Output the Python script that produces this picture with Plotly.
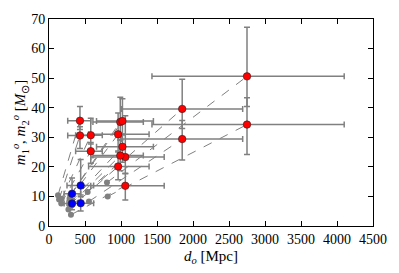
import plotly.graph_objects as go

# ---- data ----
events = ["GW150914", "GW151012", "GW151226", "GW170104", "GW170608",
          "GW170729", "GW170809", "GW170814", "GW170818", "GW170823"]
d_obs = [430, 1060, 440, 960, 320, 2750, 990, 580, 1020, 1850]
d_plus = [150, 540, 180, 430, 120, 1350, 320, 160, 430, 840]
d_minus = [170, 480, 190, 410, 110, 1320, 380, 210, 360, 840]
m1_obs = [35.6, 23.3, 13.7, 31.0, 10.9, 50.6, 35.2, 30.7, 35.5, 39.6]
m1_plus = [4.8, 14.0, 8.8, 7.2, 5.3, 16.6, 8.3, 5.7, 7.5, 10.0]
m1_minus = [3.0, 5.5, 3.2, 5.6, 1.7, 10.2, 6.0, 3.0, 4.7, 6.6]
m2_obs = [30.6, 13.6, 7.7, 20.1, 7.6, 34.3, 23.8, 25.3, 26.8, 29.4]
m2_plus = [3.0, 4.1, 2.2, 4.9, 1.3, 9.1, 5.2, 2.9, 4.3, 6.3]
m2_minus = [4.4, 4.8, 2.6, 4.5, 2.1, 10.1, 5.1, 4.1, 5.2, 7.1]
low_mass = [False, False, True, False, True, False, False, False, False, False]

# gray counterparts of the heavy events
gray_events = ["GW150914", "GW151012", "GW170104", "GW170729",
               "GW170809", "GW170814", "GW170818", "GW170823"]
gray_d1 = [125, 315, 285, 805, 295, 175, 305, 537]
gray_m1 = [10.4, 6.9, 9.2, 14.7, 10.4, 9.2, 10.6, 11.5]
gray_d2 = [140, 305, 270, 815, 290, 170, 300, 555]
gray_m2 = [9.0, 3.8, 5.6, 10.0, 7.1, 7.6, 8.0, 8.3]

x_ticks = [0, 500, 1000, 1500, 2000, 2500, 3000, 3500, 4000, 4500]
y_ticks = [0, 10, 20, 30, 40, 50, 60, 70]

GRAY = "#808080"
FONT = "Liberation Serif"

fig = go.Figure()

# dashed connectors
lx, ly = [], []
for i, ev in enumerate(gray_events):
    k = events.index(ev)
    lx += [gray_d1[i], d_obs[k], None, gray_d2[i], d_obs[k], None]
    ly += [gray_m1[i], m1_obs[k], None, gray_m2[i], m2_obs[k], None]
fig.add_trace(go.Scatter(x=lx, y=ly, mode="lines",
                         line=dict(color=GRAY, width=1, dash="dash"),
                         hoverinfo="skip", showlegend=False))

# gray dots
fig.add_trace(go.Scatter(x=gray_d1 + gray_d2, y=gray_m1 + gray_m2, mode="markers",
                         marker=dict(color=GRAY, size=6, line=dict(width=0)),
                         showlegend=False))

# error bars (m1 and m2)
for m, mp, mm in [(m1_obs, m1_plus, m1_minus), (m2_obs, m2_plus, m2_minus)]:
    fig.add_trace(go.Scatter(
        x=d_obs, y=m, mode="markers",
        marker=dict(size=1, opacity=0),
        error_x=dict(type="data", symmetric=False, array=d_plus, arrayminus=d_minus,
                     color=GRAY, thickness=1.5, width=3),
        error_y=dict(type="data", symmetric=False, array=mp, arrayminus=mm,
                     color=GRAY, thickness=1.5, width=3),
        showlegend=False))

# markers
for m in [m1_obs, m2_obs]:
    for flag, col in [(False, "#ff0000"), (True, "#0000ff")]:
        xs = [d for d, f in zip(d_obs, low_mass) if f == flag]
        ys = [v for v, f in zip(m, low_mass) if f == flag]
        fig.add_trace(go.Scatter(x=xs, y=ys, mode="markers",
                                 marker=dict(color=col, size=7.5,
                                             line=dict(color="#222222", width=0.6)),
                                 showlegend=False))

axis_common = dict(showline=True, linecolor="black", linewidth=1, mirror="ticks",
                   ticks="inside", ticklen=5, tickcolor="black", tickwidth=1,
                   showgrid=False, zeroline=False,
                   tickfont=dict(family=FONT, size=14, color="black"))

fig.update_xaxes(range=[0, 4500], tickvals=x_ticks,
                 ticktext=[str(v) for v in x_ticks],
                 title=dict(text="<i>d</i><sub><i>o</i></sub> [Mpc]",
                            font=dict(family=FONT, size=15, color="black"),
                            standoff=4),
                 **axis_common)
fig.update_yaxes(range=[0, 70], tickvals=y_ticks,
                 ticktext=[str(v) for v in y_ticks],
                 title=dict(text="<i>m</i><sub>1</sub><sup><i>o</i></sup>, "
                                 "<i>m</i><sub>2</sub><sup><i>o</i></sup> "
                                 "[<i>M</i><sub>⊙</sub>]",
                            font=dict(family=FONT, size=15, color="black"),
                            standoff=1),
                 **axis_common)

fig.update_layout(width=399, height=273,
                  margin=dict(l=49, r=23, t=13, b=47),
                  paper_bgcolor="white", plot_bgcolor="white")

# remove the browser's default 8px body margin so the figure sits at the corner
fig.write_html("out.html",
               config={"displayModeBar": False},
               post_script="document.body.style.margin='0';"
                           "document.body.style.overflow='hidden';")
